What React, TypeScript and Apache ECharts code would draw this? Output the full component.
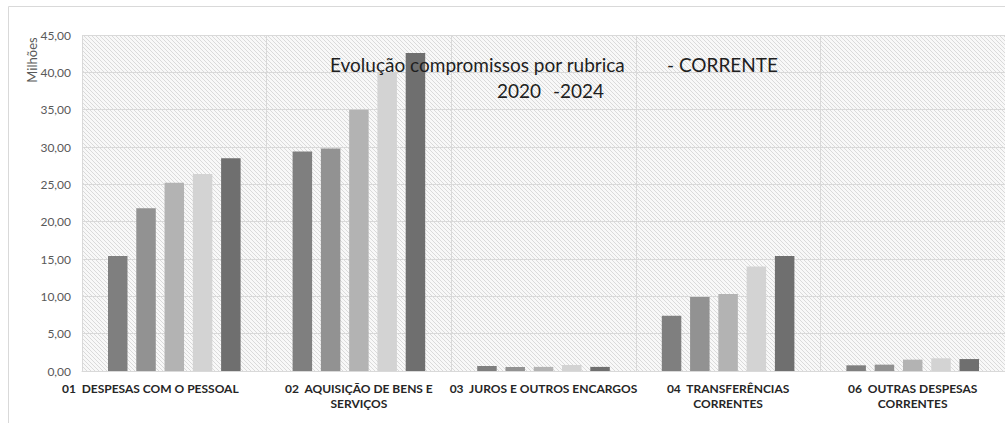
import React, { useEffect, useRef } from "react";
import * as echarts from "echarts";

const categories = [
  "01  DESPESAS COM O PESSOAL",
  "02  AQUISIÇÃO DE BENS E\nSERVIÇOS",
  "03  JUROS E OUTROS ENCARGOS",
  "04  TRANSFERÊNCIAS\nCORRENTES",
  "06  OUTRAS DESPESAS\nCORRENTES",
];
const seriesNames = ["2020", "2021", "2022", "2023", "2024"];
const s2020 = [15.4, 29.4, 0.67, 7.4, 0.76];
const s2021 = [21.8, 29.8, 0.55, 9.9, 0.85];
const s2022 = [25.2, 35.0, 0.55, 10.3, 1.52];
const s2023 = [26.4, 40.0, 0.8, 14.0, 1.7];
const s2024 = [28.5, 42.6, 0.55, 15.4, 1.6];
const seriesData = [s2020, s2021, s2022, s2023, s2024];
const barColors = ["#7f7f7f", "#929292", "#b3b3b3", "#d3d3d3", "#6f6f6f"];
const yMax = 45;
const yStep = 5;
const titleLine1a = "Evolução compromissos por rubrica";
const titleLine1b = "- CORRENTE";
const titleLine2a = "2020";
const titleLine2b = "-2024";
const unitLabel = "Milhões";

function makePattern() {
  const c = document.createElement("canvas");
  c.width = 4;
  c.height = 4;
  const ctx = c.getContext("2d")!;
  ctx.fillStyle = "#f8f8f8";
  ctx.fillRect(0, 0, 4, 4);
  ctx.fillStyle = "#dadada";
  for (let i = 0; i < 4; i++) ctx.fillRect(i, i, 1, 1);
  return c;
}

export default function App() {
  const ref = useRef<HTMLDivElement>(null);
  useEffect(() => {
    if (!ref.current) return;
    const chart = echarts.init(ref.current, null, { renderer: "svg" });
    const pat = makePattern();
    const font = "Lato";
    const titleFont = `19px ${font}`;
    chart.setOption({
      animation: false,
      backgroundColor: "#ffffff",
      grid: {
        left: 82,
        top: 35,
        right: 0,
        bottom: 52,
        show: true,
        borderWidth: 0,
        backgroundColor: { image: pat, repeat: "repeat", imageWidth: 4, imageHeight: 4 } as any,
      },
      xAxis: {
        type: "category",
        data: categories.map((c, i) =>
          i === 0 ? { value: c, textStyle: { padding: [0, 48, 0, 0] } } : c
        ),
        axisLine: { show: true, lineStyle: { color: "#d9d9d9", width: 1 } },
        axisTick: { show: false },
        splitLine: { show: true, lineStyle: { color: "#d9d9d9", width: 1 } },
        axisLabel: {
          interval: 0,
          margin: 10,
          fontFamily: font,
          fontWeight: "bold",
          fontSize: 12,
          color: "#262626",
          lineHeight: 15,
        },
      },
      yAxis: {
        type: "value",
        min: 0,
        max: yMax,
        interval: yStep,
        axisLine: { show: false },
        axisTick: { show: false },
        splitLine: { show: true, lineStyle: { color: "#d9d9d9", width: 1 } },
        axisLabel: {
          margin: 11,
          fontFamily: font,
          fontSize: 12,
          color: "#595959",
          formatter: (v: number) => v.toFixed(2).replace(".", ","),
        },
      },
      series: seriesData.map((d, i) => ({
        type: "bar",
        name: seriesNames[i],
        data: d,
        barWidth: 19.5,
        barGap: "45%",
        itemStyle: { color: barColors[i] },
      })),
      graphic: [
        {
          type: "rect",
          z: -1,
          shape: { x: 8.5, y: 6.5, width: 1100, height: 500 },
          style: { fill: "none", stroke: "#d9d9d9", lineWidth: 1 },
        },
        {
          type: "text",
          x: 32,
          y: 60,
          rotation: Math.PI / 2,
          style: {
            text: unitLabel,
            font: `13px ${font}`,
            fill: "#595959",
            align: "center",
            verticalAlign: "middle",
          },
        },
        {
          type: "text",
          z: 100,
          x: 330,
          y: 64,
          style: { text: titleLine1a, font: titleFont, fill: "#1f1f1f", align: "left", verticalAlign: "middle" },
        },
        {
          type: "text",
          z: 100,
          x: 667,
          y: 64,
          style: { text: titleLine1b, font: titleFont, fill: "#1f1f1f", align: "left", verticalAlign: "middle" },
        },
        {
          type: "text",
          z: 100,
          x: 497,
          y: 90,
          style: { text: titleLine2a, font: titleFont, fill: "#1f1f1f", align: "left", verticalAlign: "middle" },
        },
        {
          type: "text",
          z: 100,
          x: 553,
          y: 90,
          style: { text: titleLine2b, font: titleFont, fill: "#1f1f1f", align: "left", verticalAlign: "middle" },
        },
      ],
    });
    return () => chart.dispose();
  }, []);
  return (
    <div
      ref={ref}
      style={{ position: "absolute", left: 0, top: 0, width: 1005, height: 423, background: "#fff" }}
    />
  );
}
